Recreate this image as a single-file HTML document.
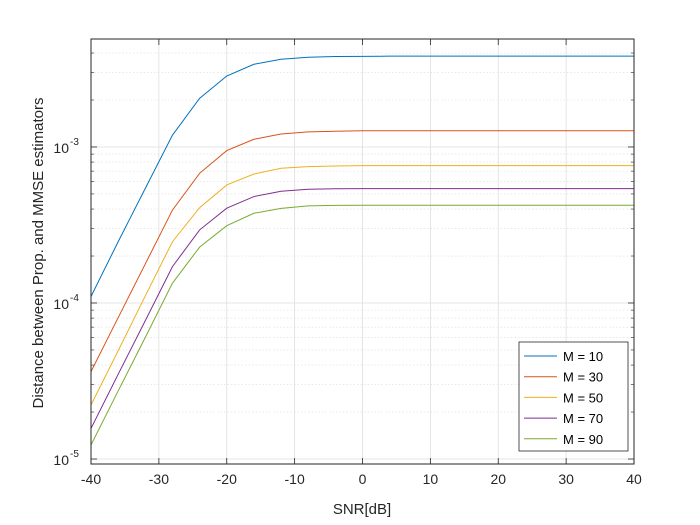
<!DOCTYPE html>
<html><head><meta charset="utf-8"><style>
html,body{margin:0;padding:0;background:#fff;}
svg{display:block;font-family:"Liberation Sans",Arial,sans-serif;}
</style></head><body>
<svg id="chart" width="700" height="525">
<rect x="0" y="0" width="700" height="525" fill="#fff"/>
<g id="grid"></g>
<g id="series"></g>
<g id="axes"></g>
<text x="362" y="514" font-size="15" text-anchor="middle" fill="#262626">SNR[dB]</text>
<text transform="translate(43,253) rotate(-90)" font-size="15" text-anchor="middle" fill="#262626">Distance between Prop. and MMSE estimators</text>
<g id="legend"></g>
</svg>
<script>
const snr = [-40,-36,-32,-28,-24,-20,-16,-12,-8,-4,0,4,8,12,16,20,24,28,32,36,40];
const m10 = [1.10e-4,2.47e-4,5.43e-4,1.19e-3,2.05e-3,2.85e-3,3.39e-3,3.65e-3,3.76e-3,3.80e-3,3.81e-3,3.82e-3,3.82e-3,3.82e-3,3.82e-3,3.82e-3,3.82e-3,3.82e-3,3.82e-3,3.82e-3,3.82e-3];
const m30 = [3.63e-5,8.05e-5,1.78e-4,3.94e-4,6.78e-4,9.48e-4,1.12e-3,1.21e-3,1.25e-3,1.26e-3,1.27e-3,1.27e-3,1.27e-3,1.27e-3,1.27e-3,1.27e-3,1.27e-3,1.27e-3,1.27e-3,1.27e-3,1.27e-3];
const m50 = [2.22e-5,4.94e-5,1.11e-4,2.47e-4,4.08e-4,5.71e-4,6.71e-4,7.30e-4,7.48e-4,7.55e-4,7.59e-4,7.59e-4,7.59e-4,7.59e-4,7.59e-4,7.59e-4,7.59e-4,7.59e-4,7.59e-4,7.59e-4,7.59e-4];
const m70 = [1.57e-5,3.49e-5,7.71e-5,1.71e-4,2.94e-4,4.05e-4,4.81e-4,5.20e-4,5.36e-4,5.40e-4,5.41e-4,5.41e-4,5.41e-4,5.41e-4,5.41e-4,5.41e-4,5.41e-4,5.41e-4,5.41e-4,5.41e-4,5.41e-4];
const m90 = [1.23e-5,2.73e-5,6.02e-5,1.34e-4,2.28e-4,3.13e-4,3.76e-4,4.04e-4,4.19e-4,4.22e-4,4.23e-4,4.23e-4,4.23e-4,4.23e-4,4.23e-4,4.23e-4,4.23e-4,4.23e-4,4.23e-4,4.23e-4,4.23e-4];
const seriesNames = ["M = 10","M = 30","M = 50","M = 70","M = 90"];
const xTicks = [-40,-30,-20,-10,0,10,20,30,40];
const yDecades = [-5,-4,-3];

const L=91,R=634,T=39,B=464;
const yMinLog=-5.032,yMaxLog=-2.308;
const colors=["#0072BD","#D95319","#EDB120","#7E2F8E","#77AC30"];
const X=v=>L+(v+40)/80*(R-L);
const Y=v=>B-(Math.log10(v)-yMinLog)/(yMaxLog-yMinLog)*(B-T);
const NS="http://www.w3.org/2000/svg";
function mk(tag,attrs,parent){const e=document.createElementNS(NS,tag);for(const k in attrs)e.setAttribute(k,attrs[k]);parent.appendChild(e);return e;}
const grid=document.getElementById('grid'),axes=document.getElementById('axes'),ser=document.getElementById('series'),leg=document.getElementById('legend');

// minor grid
for(let d=-6;d<=-2;d++){for(let k=2;k<=9;k++){const v=k*Math.pow(10,d);const y=Y(v);if(y<T||y>B)continue;
 const g=mk('line',{x1:L,x2:R,y1:y,y2:y,stroke:'#dcdcdc','stroke-width':0.6,'stroke-dasharray':'1.5,2'},grid);
 
 const t1=mk('line',{x1:L,x2:L+3,y1:y,y2:y,stroke:'#262626','stroke-width':0.6},axes);
 
 const t2=mk('line',{x1:R,x2:R-3,y1:y,y2:y,stroke:'#262626','stroke-width':0.6},axes);
 }}
// major y grid + labels
yDecades.forEach(d=>{const y=Y(Math.pow(10,d));
 const g=mk('line',{x1:L,x2:R,y1:y,y2:y,stroke:'#dedede','stroke-width':0.8},grid);
 
 mk('line',{x1:L,x2:L+6,y1:y,y2:y,stroke:'#262626','stroke-width':0.8},axes);
 mk('line',{x1:R,x2:R-6,y1:y,y2:y,stroke:'#262626','stroke-width':0.8},axes);
 const t=mk('text',{x:L-22,y:y+6,'font-size':14,'text-anchor':'end',fill:'#262626'},axes);
 t.textContent='10';
 
 const s=mk('text',{x:L-21,y:y-2,'font-size':10,'text-anchor':'start',fill:'#262626'},axes);
 s.textContent=String(d);
 });
// x grid + labels
xTicks.forEach(v=>{const x=X(v);
 const g=mk('line',{x1:x,x2:x,y1:T,y2:B,stroke:'#dedede','stroke-width':0.8},grid);
 
 mk('line',{x1:x,x2:x,y1:B,y2:B-6,stroke:'#262626','stroke-width':0.8},axes);
 mk('line',{x1:x,x2:x,y1:T,y2:T+6,stroke:'#262626','stroke-width':0.8},axes);
 const t=mk('text',{x:x,y:B+20,'font-size':14,'text-anchor':'middle',fill:'#262626'},axes);
 t.textContent=String(v);
 });
const box=mk('rect',{x:L,y:T,width:R-L,height:B-T,fill:'none',stroke:'#262626','stroke-width':1},axes);


[m10,m30,m50,m70,m90].forEach((arr,i)=>{
 const p=mk('polyline',{points:arr.map((v,j)=>X(snr[j])+','+Y(v)).join(' '),fill:'none',stroke:colors[i],'stroke-width':1},ser);
 
 });

const lb=mk('rect',{x:519,y:342,width:109,height:109,fill:'#fff',stroke:'#262626','stroke-width':0.8},leg);

seriesNames.forEach((n,i)=>{const y=356+i*20.7;
 const l=mk('line',{x1:524,x2:557,y1:y,y2:y,stroke:colors[i],'stroke-width':1},leg);
 
 const t=mk('text',{x:563,y:y+5,'font-size':13,fill:'#000'},leg);t.textContent=n;
 });
</script>
</body></html>
